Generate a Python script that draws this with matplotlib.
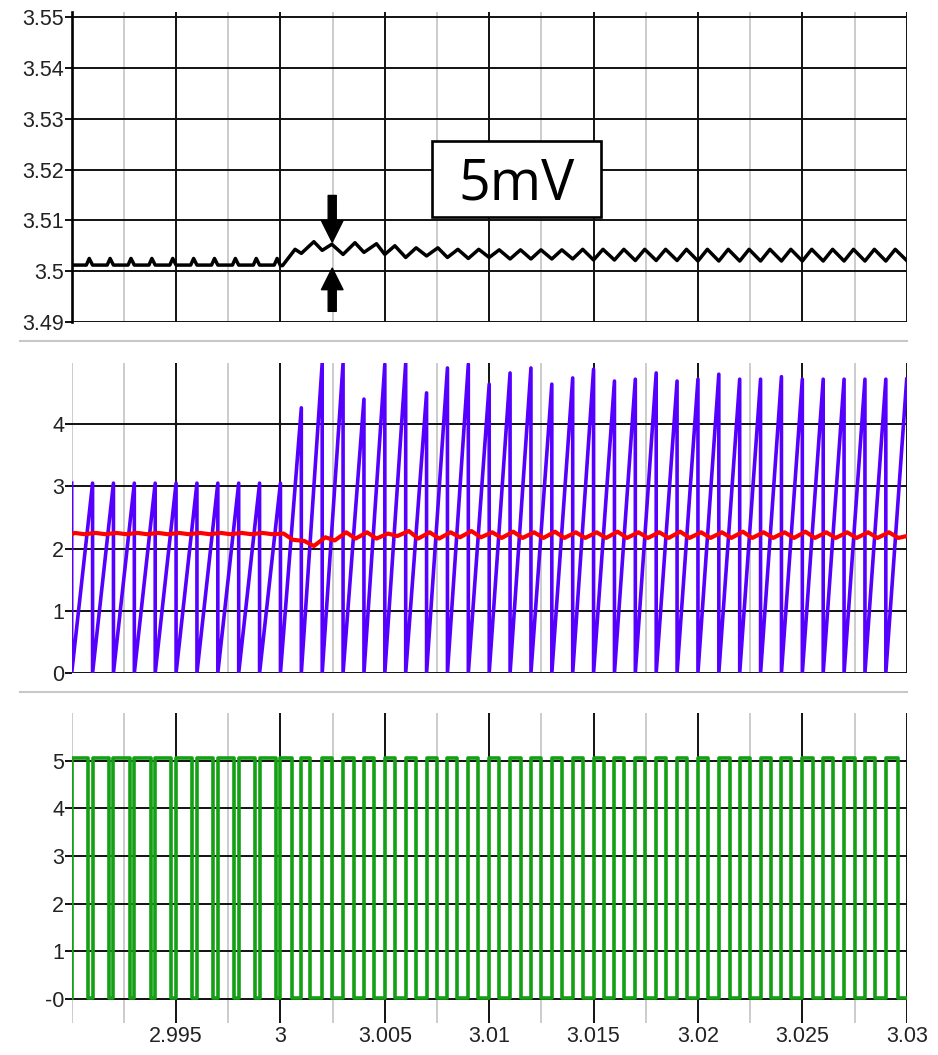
import matplotlib
matplotlib.use("Agg")
import matplotlib.pyplot as plt
from matplotlib import font_manager
from matplotlib.lines import Line2D
from matplotlib.patches import Rectangle

# ---------------- data ----------------
T_START = 2.99
PERIOD = 0.001

x_major = [2.995, 3.0, 3.005, 3.01, 3.015, 3.02, 3.025, 3.03]
x_major_labels = ["2.995", "3", "3.005", "3.01", "3.015", "3.02", "3.025", "3.03"]
x_minor = [2.99, 2.9925, 2.9975, 3.0025, 3.0075, 3.0125, 3.0175, 3.0225, 3.0275]

top_yticks = [3.49, 3.50, 3.51, 3.52, 3.53, 3.54, 3.55]
top_ylabels = ["3.49", "3.5", "3.51", "3.52", "3.53", "3.54", "3.55"]
mid_yticks = [0, 1, 2, 3, 4]
mid_ylabels = ["0", "1", "2", "3", "4"]
bot_yticks = [0, 1, 2, 3, 4, 5]
bot_ylabels = ["-0", "1", "2", "3", "4", "5"]

# sawtooth carrier: peak reached at the end of each switching period
saw_peak = [3.05, 3.05, 3.05, 3.05, 3.05, 3.05, 3.05, 3.05, 3.05, 3.05,
            4.26, 4.98, 4.98, 4.40, 4.96, 4.98, 4.50, 4.90, 4.96, 4.64,
            4.82, 4.90, 4.64, 4.74, 4.88, 4.69, 4.72, 4.82, 4.69, 4.72,
            4.80, 4.72, 4.72, 4.76, 4.72, 4.72, 4.72, 4.72, 4.72, 4.72]
saw_first = 3.05

# control voltage (red): high / low value inside each period
ctrl_hi = [2.25, 2.25, 2.25, 2.25, 2.25, 2.25, 2.25, 2.25, 2.25, 2.25,
           2.24, 2.12, 2.18, 2.26, 2.26, 2.24, 2.28, 2.26, 2.26, 2.28,
           2.26, 2.27, 2.26, 2.27, 2.26, 2.26, 2.27, 2.26, 2.26, 2.27,
           2.26, 2.26, 2.27, 2.26, 2.26, 2.27, 2.26, 2.26, 2.26, 2.26]
ctrl_lo = [2.23, 2.23, 2.23, 2.23, 2.23, 2.23, 2.23, 2.23, 2.23, 2.23,
           2.14, 2.04, 2.13, 2.16, 2.16, 2.20, 2.16, 2.16, 2.18, 2.18,
           2.17, 2.17, 2.17, 2.17, 2.17, 2.17, 2.17, 2.17, 2.17, 2.17,
           2.17, 2.17, 2.17, 2.17, 2.17, 2.17, 2.17, 2.17, 2.17, 2.17]
ctrl_end = 2.20

# PWM output (green): on-time fraction of each period
pwm_duty = [0.78, 0.78, 0.78, 0.78, 0.78, 0.78, 0.78, 0.78, 0.78, 0.78,
            0.56, 0.42, 0.48, 0.53, 0.48, 0.48, 0.51, 0.48, 0.48, 0.48,
            0.48, 0.53, 0.48, 0.48, 0.48, 0.48, 0.48, 0.48, 0.48, 0.48,
            0.48, 0.53, 0.48, 0.48, 0.48, 0.53, 0.48, 0.53, 0.48, 0.56]
pwm_high = 5.05
pwm_low = 0.02

# output voltage (black): value at period start, local peak, peak position, flat part
vout_start = [3.5012, 3.5012, 3.5012, 3.5012, 3.5012, 3.5012, 3.5012, 3.5012, 3.5012, 3.5012,
              3.5011, 3.5035, 3.5041, 3.5033, 3.5037, 3.5033, 3.5027, 3.5030, 3.5027, 3.5025,
              3.5027, 3.5024, 3.5024, 3.5024, 3.5024, 3.5022, 3.5022, 3.5021, 3.5021, 3.5021,
              3.5020, 3.5020, 3.5020, 3.5020, 3.5020, 3.5020, 3.5020, 3.5020, 3.5020, 3.5020,
              3.5021]
vout_peak = [3.5025, 3.5025, 3.5025, 3.5025, 3.5025, 3.5025, 3.5025, 3.5025, 3.5025, 3.5025,
             3.5043, 3.5058, 3.5053, 3.5056, 3.5054, 3.5050, 3.5046, 3.5046, 3.5043, 3.5043,
             3.5042, 3.5042, 3.5042, 3.5042, 3.5043, 3.5043, 3.5043, 3.5043, 3.5043, 3.5043,
             3.5043, 3.5043, 3.5043, 3.5043, 3.5043, 3.5043, 3.5043, 3.5043, 3.5043, 3.5043]
vout_peak_pos = [0.84] * 10 + [0.70, 0.60, 0.46, 0.57, 0.60, 0.48, 0.50, 0.54, 0.50, 0.50,
                               0.48, 0.50, 0.48, 0.48, 0.48] + [0.45] * 15
vout_flat_pos = [0.70] * 10 + [0.10] + [0.0] * 29

annot_text = "5mV"
arrow_x = 3.00248
arrow_top = (3.5149, 3.5057)
arrow_bottom = (3.4921, 3.5006)

# ---------------- build the traces ----------------
n = len(saw_peak)
starts = [T_START + k * PERIOD for k in range(n + 1)]

saw_t, saw_v = [T_START], [saw_first]
for k in range(n):
    saw_t += [starts[k], starts[k + 1]]
    saw_v += [0.0, saw_peak[k]]

ctrl_t, ctrl_v = [T_START], [ctrl_lo[0]]
for k in range(n):
    ctrl_t += [starts[k] + 0.15 * PERIOD, starts[k] + 0.6 * PERIOD]
    ctrl_v += [ctrl_hi[k], ctrl_lo[k]]
ctrl_t.append(starts[n]); ctrl_v.append(ctrl_end)

pwm_t, pwm_v = [T_START], [pwm_low]
for k in range(n):
    f = starts[k] + pwm_duty[k] * PERIOD
    pwm_t += [starts[k], f, f, starts[k + 1]]
    pwm_v += [pwm_high, pwm_high, pwm_low, pwm_low]

vo_t, vo_v = [], []
for k in range(n):
    vo_t.append(starts[k]); vo_v.append(vout_start[k])
    if vout_flat_pos[k] > 0:
        vo_t.append(starts[k] + vout_flat_pos[k] * PERIOD); vo_v.append(vout_start[k])
    vo_t.append(starts[k] + vout_peak_pos[k] * PERIOD); vo_v.append(vout_peak[k])
vo_t.append(starts[n]); vo_v.append(vout_start[n])

# ---------------- figure ----------------
W_PX, H_PX = 938, 1055
fig = plt.figure(figsize=(W_PX / 100, H_PX / 100), dpi=100)
fig.patch.set_facecolor("white")

names = {f.name for f in font_manager.fontManager.ttflist}
if "Liberation Sans Narrow" in names:
    xfont = dict(family="Liberation Sans Narrow", size=18)
else:
    xfont = dict(family="Liberation Sans", size=15.5)
yfont = dict(family="Liberation Sans", size=15.5)
label_color = "#222222"

def fx(px):
    return px / W_PX

def fy(py):
    return 1 - py / H_PX

L, R = 71.7, 906.7
ax1 = fig.add_axes([fx(L), fy(322), fx(R) - fx(L), (322 - 12) / H_PX])
ax2 = fig.add_axes([fx(L), fy(673), fx(R) - fx(L), (673 - 363) / H_PX])
ax3 = fig.add_axes([fx(L), fy(1023), fx(R) - fx(L), (1023 - 713) / H_PX])

GRID_BLACK = "#111111"
GRID_GRAY = "#c8c8c8"

def style(ax, yticks, ylabels, ylim, show_x):
    ax.set_xlim(T_START, 3.03)
    ax.set_ylim(*ylim)
    for s in ax.spines.values():
        s.set_visible(False)
    for xm in x_minor:
        ax.axvline(xm, color=GRID_GRAY, lw=1.3, zorder=0.5)
    for xm in x_major:
        ax.axvline(xm, color=GRID_BLACK, lw=1.4, zorder=0.6)
    for yv in yticks:
        ax.axhline(yv, color=GRID_BLACK, lw=1.4, zorder=0.6)
    ax.set_yticks(yticks)
    ax.set_yticklabels(ylabels, fontdict=yfont, color=label_color)
    ax.tick_params(axis="y", length=5, width=1.4, color=GRID_BLACK, pad=0.5)
    ax.set_xticks(x_major)
    if show_x:
        ax.set_xticklabels(x_major_labels, fontdict=xfont, color=label_color)
    else:
        ax.set_xticklabels([])
    ax.tick_params(axis="x", length=0, pad=2)

style(ax1, top_yticks, top_ylabels, (3.49, 3.551), False)
ax1.spines["left"].set_visible(True)
ax1.spines["left"].set_color("black")
ax1.spines["left"].set_linewidth(1.9)
ax1.plot(vo_t, vo_v, color="black", lw=2.5, zorder=3)

style(ax2, mid_yticks, mid_ylabels, (0, 4.98), False)
ax2.plot(saw_t, saw_v, color="#5500ff", lw=2.6, zorder=3, clip_on=True)
ax2.plot(ctrl_t, ctrl_v, color="#ff0000", lw=3.0, zorder=4)

style(ax3, bot_yticks, bot_ylabels, (-0.5, 6.0), True)
ax3.plot(pwm_t, pwm_v, color="#14a014", lw=2.6, zorder=3)

# arrows marking the ripple
arrow_kw = dict(width=5.8, headwidth=15.5, headlength=15.5, shrink=0, color="black")
ax1.annotate("", xy=(arrow_x, arrow_top[1]), xytext=(arrow_x, arrow_top[0]),
             arrowprops=arrow_kw, zorder=5)
ax1.annotate("", xy=(arrow_x, arrow_bottom[1]), xytext=(arrow_x, arrow_bottom[0]),
             arrowprops=arrow_kw, zorder=5)

# text box
box = Rectangle((fx(432), fy(217)), fx(601) - fx(432), (217 - 141) / H_PX,
                transform=fig.transFigure, facecolor="white", edgecolor="black",
                lw=1.9, zorder=5)
fig.add_artist(box)
fig.text(fx(517), fy(200), annot_text, ha="center", va="baseline",
         fontsize=40, family=["Open Sans", "DejaVu Sans"], color="black", zorder=6)

# light separators between panels
for yy in (341, 692):
    fig.add_artist(Line2D([fx(20), fx(907)], [fy(yy), fy(yy)], transform=fig.transFigure,
                          color=GRID_GRAY, lw=1.5))

fig.savefig("out.png", dpi=100, facecolor="white")
